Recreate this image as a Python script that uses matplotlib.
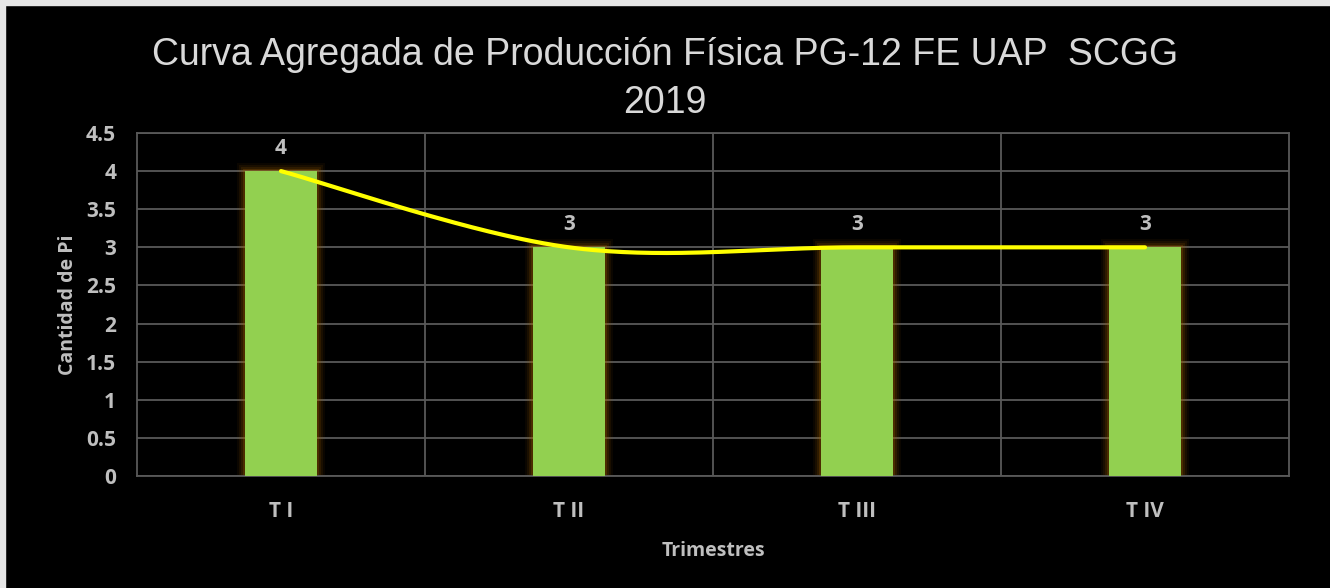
import numpy as np
import matplotlib.pyplot as plt
from matplotlib.patches import Rectangle

# data
trimestres = ['T I', 'T II', 'T III', 'T IV']
cantidad = [4, 3, 3, 3]
yticks = [0, 0.5, 1, 1.5, 2, 2.5, 3, 3.5, 4, 4.5]

fig = plt.figure(figsize=(13.3, 5.88), dpi=100, facecolor='black')
# light frame on top/left as in the screenshot
fig.patches.append(Rectangle((0, 0), 5 / 1330, 1, transform=fig.transFigure, color='#E6E6E6', zorder=0))
fig.patches.append(Rectangle((0, 1 - 5 / 588), 1, 5 / 588, transform=fig.transFigure, color='#E6E6E6', zorder=0))

ax = fig.add_axes([137 / 1330, 1 - 476 / 588, 1152 / 1330, 343 / 588])
ax.set_facecolor('black')

x = np.arange(len(trimestres))
w = 0.247
px = 4 / 1152.0
fnt = 'Open Sans'
grey = '#BFBFBF'
tfont = {'family': fnt, 'weight': 'bold', 'size': 15, 'color': grey}

# glow round bars
for k, a in zip([8, 6, 4, 2], [0.07, 0.1, 0.15, 0.25]):
    ax.bar(x, np.array(cantidad) + k * 4.5 / 343, width=w + 2 * k * px, color='#A36200', alpha=a, zorder=2, linewidth=0)
ax.bar(x, cantidad, width=w, color='#92D050', zorder=3, linewidth=0)

for xi, v in zip(x, cantidad):
    ax.text(xi, v + 0.16, str(v), ha='center', va='bottom', fontdict=tfont)

# smoothed line (Catmull-Rom style bezier through the points)
pts = np.column_stack([x, cantidad]).astype(float)
ext = np.vstack([pts[0], pts, pts[-1]])
t = np.linspace(0, 1, 60)[:, None]
curve = []
for i in range(len(pts) - 1):
    p0, p1 = ext[i + 1], ext[i + 2]
    c1 = p0 + (ext[i + 2] - ext[i]) / 6
    c2 = p1 - (ext[i + 3] - ext[i + 1]) / 6
    seg = (1 - t) ** 3 * p0 + 3 * (1 - t) ** 2 * t * c1 + 3 * (1 - t) * t ** 2 * c2 + t ** 3 * p1
    curve.append(seg)
curve = np.vstack(curve)
ax.plot(curve[:, 0], curve[:, 1], color='#FFFF00', lw=3, solid_capstyle='round', zorder=5)

ax.set_xlim(-0.5, len(trimestres) - 0.5)
ax.set_ylim(0, 4.5)
ax.set_yticks(yticks)
ax.set_yticklabels([('%g' % v) for v in yticks], fontdict=tfont)
ax.set_xticks(x)
ax.set_xticklabels(trimestres, fontdict=tfont)
ax.set_xticks(np.arange(0.5, len(trimestres) - 0.5, 1), minor=True)
ax.grid(axis='y', color='#595959', lw=1.3, zorder=1)
ax.grid(axis='x', which='minor', color='#595959', lw=1.3, zorder=1)
ax.tick_params(axis='x', which='both', length=0, pad=18)
ax.tick_params(axis='y', length=0, pad=15)
for s in ax.spines.values():
    s.set_color('#595959')
    s.set_linewidth(1.3)

ax.set_xlabel('Trimestres', color=grey, fontsize=14, fontweight='bold', family=fnt, labelpad=14)
ax.set_ylabel('Cantidad de Pi', color=grey, fontsize=14, fontweight='bold', family=fnt, labelpad=6)

fig.text(0.5, 1 - 79 / 588, 'Curva Agregada de Producción Física PG-12 FE UAP  SCGG\n2019',
         ha='center', va='center', color='#D9D9D9', fontsize=27, family='Liberation Sans',
         linespacing=1.4)

fig.savefig('out.png', dpi=100, facecolor=fig.get_facecolor())
